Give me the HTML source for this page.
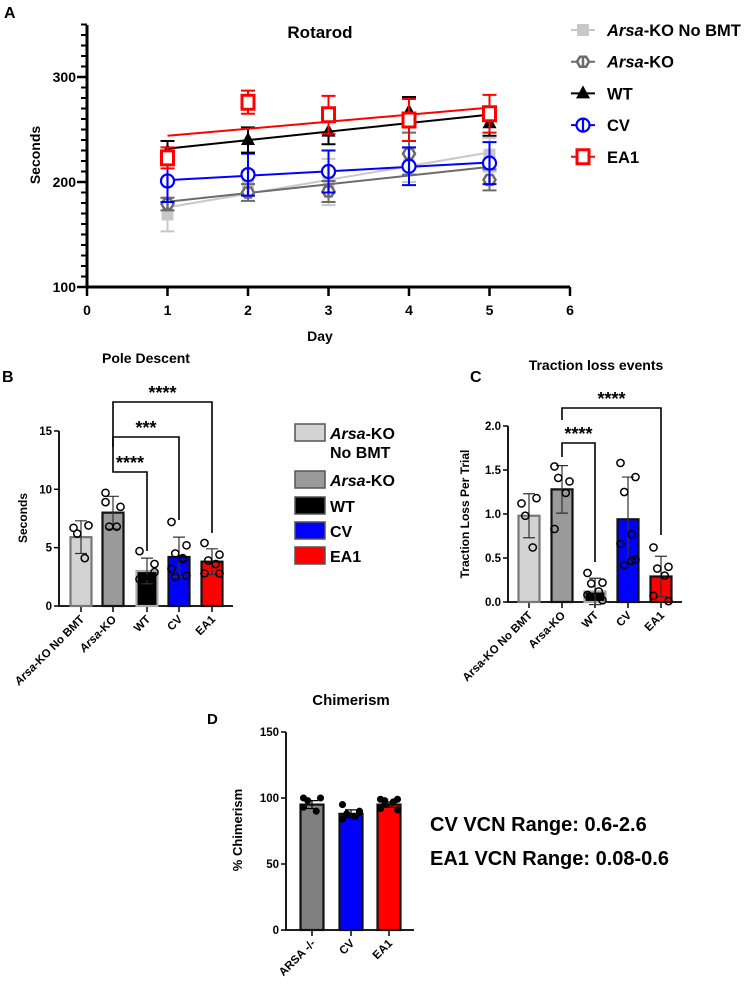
<!DOCTYPE html>
<html><head><meta charset="utf-8"><style>
html,body{margin:0;padding:0;background:#fff}
svg{display:block;font-family:"Liberation Sans",Arial,sans-serif}
text{font-weight:bold}
</style></head><body>
<svg id="fig" width="748" height="996" viewBox="0 0 748 996">
<g id="pa"></g>
<g id="pb"></g>
<g id="pc"></g>
<g id="pd"></g>
</svg>
<script>
// ---------- Panel A data ----------
const days = [1, 2, 3, 4, 5];
const rotNoBMT = [169, 199, 200, 216, 226];
const rotKO = [179, 190, 191, 227, 202];
const rotWT = [229, 240, 248, 267, 256];
const rotCV = [201, 207, 210, 215, 218];
const rotEA1 = [223, 276, 264, 259, 265];
const errNoBMT = [16, 12, 22, 16, 16];
const errKO = [6, 8, 10, 20, 10];
const errWT = [10, 12, 12, 14, 12];
const errCV = [20, 20, 20, 18, 20];
const errEA1 = [10, 11, 18, 20, 18];
const rotYTicks = [100, 200, 300];
const rotXTicks = [0, 1, 2, 3, 4, 5, 6];
// ---------- Panel B data ----------
const groups = ["Arsa-KO No BMT", "Arsa-KO", "WT", "CV", "EA1"];
const poleMean = [5.9, 8.0, 3.0, 4.2, 3.8];
const poleSD = [1.4, 1.4, 1.1, 1.7, 1.1];
const polePts = [[6.7, 6.9, 6.2, 4.1], [9.7, 8.5, 6.8, 6.8, 8.9], [4.7, 2.9, 2.5, 2.4, 2.3, 3.6], [7.2, 5.2, 4.5, 4.1, 3.2, 2.6, 2.5, 4.0], [5.4, 4.4, 3.9, 3.6, 2.8, 2.8]];
const poleTicks = [0, 5, 10, 15];
// ---------- Panel C data ----------
const tracMean = [0.98, 1.28, 0.12, 0.94, 0.29];
const tracSD = [0.25, 0.27, 0.15, 0.48, 0.23];
const tracPts = [[1.12, 1.18, 0.98, 0.62], [1.54, 1.37, 1.41, 1.24, 0.83], [0.33, 0.22, 0.21, 0.12, 0.08, 0.02], [1.58, 1.42, 1.25, 0.77, 0.66, 0.48, 0.42, 0.47], [0.62, 0.4, 0.38, 0.3, 0.07, 0.01]];
const tracTicks = [0, 0.5, 1.0, 1.5, 2.0];
// ---------- Panel D data ----------
const chimGroups = ["ARSA -/-", "CV", "EA1"];
const chimMean = [95, 88, 95];
const chimSD = [3, 3, 2];
const chimPts = [[100, 100, 98, 90, 93], [95, 90, 88, 86, 84, 89], [99, 99, 98, 97, 92, 91, 95]];
const chimTicks = [0, 50, 100, 150];

const NS = "http://www.w3.org/2000/svg";
function mk(parent, tag, attrs, txt) {
  const e = document.createElementNS(NS, tag);
  for (const k in attrs) e.setAttribute(k, attrs[k]);
  if (txt !== undefined) e.textContent = txt;
  parent.appendChild(e);
  return e;
}
function regress(xs, ys) {
  const n = xs.length; let mx = 0, my = 0;
  for (let i = 0; i < n; i++) { mx += xs[i]; my += ys[i]; }
  mx /= n; my /= n; let sxy = 0, sxx = 0;
  for (let i = 0; i < n; i++) { sxy += (xs[i]-mx)*(ys[i]-my); sxx += (xs[i]-mx)*(xs[i]-mx); }
  const b = sxy/sxx; return [my - b*mx, b];
}

// ================= PANEL A =================
(function(){
  const g = document.getElementById("pa");
  const X = d => 87 + d*80.5;
  const Y = v => 182 - (v-200)*1.05;
  let t;
  t = mk(g, "text", {x: 4, y: 18, "font-size": 16});
  t.textContent = "A";
  
  
  t = mk(g, "text", {x: 320, y: 38, "font-size": 17, "text-anchor": "middle"}, "Rotarod");
  
  
  t = mk(g, "text", {x: 0, y: 0, "font-size": 14, "text-anchor": "middle", transform: "translate(40,155) rotate(-90)"}, "Seconds");
  
  
  t = mk(g, "text", {x: 320, y: 341, "font-size": 14, "text-anchor": "middle"}, "Day");
  
  
  // axes
  let ax = mk(g, "path", {d: `M${X(0)} 25 V${Y(100)} H${X(6)}`, stroke: "#000", "stroke-width": 3, fill: "none"});
  
  
  for (let v = 110; v <= 350; v += 10) {
    if (v % 100 === 0) continue;
    mk(g, "line", {x1: X(0)-6, x2: X(0), y1: Y(v), y2: Y(v), stroke: "#000", "stroke-width": 2});
  }
  rotYTicks.forEach(v => {
    mk(g, "line", {x1: X(0)-10, x2: X(0), y1: Y(v), y2: Y(v), stroke: "#000", "stroke-width": 2.5});
    t = mk(g, "text", {x: X(0)-11, y: Y(v)+5, "font-size": 14, "text-anchor": "end"}, v);
    
    
  });
  rotXTicks.forEach(d => {
    mk(g, "line", {x1: X(d), x2: X(d), y1: Y(100), y2: Y(100)+9, stroke: "#000", "stroke-width": 2.5});
    t = mk(g, "text", {x: X(d), y: Y(100)+28, "font-size": 14, "text-anchor": "middle"}, d);
    
    
  });
  const series = [
    {name: "no-bmt", vals: rotNoBMT, err: errNoBMT, color: "#c8c8c8", mk: "sq"},
    {name: "arsa-ko", vals: rotKO, err: errKO, color: "#6b6b6b", mk: "hex"},
    {name: "cv", vals: rotCV, err: errCV, color: "#0000ff", mk: "circ"},
    {name: "wt", vals: rotWT, err: errWT, color: "#000", mk: "tri"},
    {name: "ea1", vals: rotEA1, err: errEA1, color: "#ff0000", mk: "osq"}
  ];
  function marker(p, type, x, y, c) {
    if (type === "sq") return mk(p, "rect", {x: x-6, y: y-6, width: 12, height: 12, fill: c});
    if (type === "hex") return mk(p, "path", {d: `M${x-6} ${y} L${x-3} ${y-5} H${x+3} L${x+6} ${y} L${x+3} ${y+5} H${x-3}Z M${x} ${y-5} V${y+5}`, fill: "#fff", stroke: c, "stroke-width": 2.5});
    if (type === "circ") return mk(p, "path", {d: `M${x} ${y-6.5} A6.5 6.5 0 1 0 ${x} ${y+6.5} A6.5 6.5 0 1 0 ${x} ${y-6.5} M${x} ${y-6.5} A6.5 6.5 0 0 0 ${x} ${y+6.5}Z`, fill: "#fff", stroke: c, "stroke-width": 2.2});
    if (type === "tri") return mk(p, "path", {d: `M${x} ${y-8} L${x+7} ${y+5} H${x-7}Z`, fill: c});
    if (type === "osq") return mk(p, "path", {d: `M${x-6} ${y-7} h12 v14 h-12Z`, fill: "#fff", stroke: c, "stroke-width": 3});
  }
  series.forEach(s => {
    const sg = mk(g, "g", {});
    
    
    const [a, b] = regress(days, s.vals);
    const ln = mk(sg, "line", {x1: X(1), y1: Y(a+b*1), x2: X(5), y2: Y(a+b*5), stroke: s.color, "stroke-width": 2});
    
    
    days.forEach((d, i) => {
      const x = X(d), y = Y(s.vals[i]), e = s.err[i] * 1.05;
      const eb = mk(sg, "path", {d: `M${x} ${y-e} V${y+e} M${x-7} ${y-e} H${x+7} M${x-7} ${y+e} H${x+7}`, stroke: s.color, "stroke-width": 2, fill: "none"});
      
      
      const m = marker(sg, s.mk, x, y, s.color);
      
      
    });
  });
  // legend
  const leg = [["Arsa", "-KO No BMT", "#c8c8c8", "sq"], ["Arsa", "-KO", "#6b6b6b", "hex"], ["", "WT", "#000", "tri"], ["", "CV", "#0000ff", "circ"], ["", "EA1", "#ff0000", "osq"]];
  leg.forEach((l, i) => {
    const y = 30 + i*31.7;
    const lg = mk(g, "g", {});
    
    
    mk(lg, "line", {x1: 571, x2: 595, y1: y, y2: y, stroke: l[2], "stroke-width": 2});
    marker(lg, l[3], 583, y, l[2]);
    const tx = mk(lg, "text", {x: 607, y: y+6, "font-size": 16.5});
    if (l[0]) mk(tx, "tspan", {"font-style": "italic"}, l[0]);
    mk(tx, "tspan", {}, l[1]);
  });
})();

// ================= bar chart helper =================
function barChart(g, o) {
  const Y = v => o.y0 - v*o.k;
  let t;
  const ax = mk(g, "path", {d: `M${o.ax} ${Y(o.ticks[o.ticks.length-1])} V${o.y0} H${o.axEnd}`, stroke: "#000", "stroke-width": 1.8, fill: "none"});
  
  
  o.ticks.forEach(v => {
    mk(g, "line", {x1: o.ax-5, x2: o.ax, y1: Y(v), y2: Y(v), stroke: "#000", "stroke-width": 1.5});
    t = mk(g, "text", {x: o.ax-7, y: Y(v)+4, "font-size": 11.5, "text-anchor": "end"}, o.fmt(v));
    
    
  });
  o.means.forEach((m, i) => {
    const cx = o.cx[i];
    mk(g, "line", {x1: cx, x2: cx, y1: o.y0, y2: o.y0+6, stroke: "#000", "stroke-width": 1.5});
    const b = mk(g, "rect", {x: cx-o.bw/2, y: Y(m), width: o.bw, height: o.y0-Y(m), fill: o.fills[i], stroke: o.strokes[i], "stroke-width": 2.2});
    
    
    const s = o.sd[i];
    const eb = mk(g, "path", {d: `M${cx} ${Y(m-s)} V${Y(m+s)} M${cx-6} ${Y(m+s)} H${cx+6} M${cx-6} ${Y(m-s)} H${cx+6}`, stroke: o.errColor, "stroke-width": 1.2, fill: "none"});
    
    
    o.pts[i].forEach((p, j) => {
      const off = (j % 2 === 0 ? -1 : 1) * (o.bw/2 - 3) * ((j % 4 < 2) ? 1 : 0.5);
      const c = mk(g, "circle", {cx: cx + off, cy: Y(p), r: o.r, fill: o.ptFill, stroke: "#000", "stroke-width": 1.5});
      
      
    });
    const lt = mk(g, "text", {x: 0, y: 0, "font-size": 11.5, "text-anchor": "end", transform: `translate(${cx+4},${o.y0+14}) rotate(-45)`});
    if (o.italicArsa && o.labels[i].startsWith("Arsa")) { mk(lt, "tspan", {"font-style": "italic"}, "Arsa"); mk(lt, "tspan", {}, o.labels[i].slice(4)); }
    else lt.textContent = o.labels[i];
    
    
  });
}
function bracket(g, x1, x2, yTop, y1b, y2b, stars) {
  const p = mk(g, "path", {d: `M${x1} ${y1b} V${yTop} H${x2} V${y2b}`, stroke: "#000", "stroke-width": 1.6, fill: "none"});
  
  
  const t = mk(g, "text", {x: (x1+x2)/2, y: yTop-3, "font-size": 18, "text-anchor": "middle"}, stars);
  
  
}
const fills = ["#d3d3d3", "#9a9a9a", "#000", "#0000ff", "#ff0000"];
const strokes = ["#777", "#111", "#aaa", "#111", "#111"];

// ================= PANEL B =================
(function(){
  const g = document.getElementById("pb");
  let t = mk(g, "text", {x: 2, y: 382, "font-size": 16}, "B");
  
  
  t = mk(g, "text", {x: 146, y: 363, "font-size": 14, "text-anchor": "middle"}, "Pole Descent");
  
  
  t = mk(g, "text", {x: 0, y: 0, "font-size": 12, "text-anchor": "middle", transform: "translate(27,518) rotate(-90)"}, "Seconds");
  
  
  barChart(g, {ax: 59, axEnd: 233, y0: 606, k: 11.67, ticks: poleTicks, fmt: v => v, cx: [81, 113, 147, 179, 212], bw: 21,
    means: poleMean, sd: poleSD, pts: polePts, fills: fills, strokes: strokes, labels: groups, errColor: "#333", ptFill: "none", r: 3.6, italicArsa: true});
  bracket(g, 113, 147, 472, 447, 551, "****");
  bracket(g, 113, 179, 437, 447, 520, "***");
  bracket(g, 113, 212, 402, 447, 533, "****");
  const leg = [["Arsa", "-KO", "No BMT"], ["Arsa", "-KO"], ["", "WT"], ["", "CV"], ["", "EA1"]];
  const ly = [424, 471, 497, 522, 547];
  leg.forEach((l, i) => {
    const lg = mk(g, "g", {});
    
    
    mk(lg, "rect", {x: 295, y: ly[i], width: 30, height: 17, fill: fills[i], stroke: "#555", "stroke-width": 1.5});
    const tx = mk(lg, "text", {x: 330, y: ly[i]+15, "font-size": 16});
    if (l[0]) mk(tx, "tspan", {"font-style": "italic"}, l[0]);
    mk(tx, "tspan", {}, l[1]);
    if (l[2]) mk(lg, "text", {x: 330, y: ly[i]+34, "font-size": 16}, l[2]);
  });
})();

// ================= PANEL C =================
(function(){
  const g = document.getElementById("pc");
  let t = mk(g, "text", {x: 470, y: 382, "font-size": 16}, "C");
  
  
  t = mk(g, "text", {x: 596, y: 370, "font-size": 14, "text-anchor": "middle"}, "Traction loss events");
  
  
  t = mk(g, "text", {x: 0, y: 0, "font-size": 12, "text-anchor": "middle", transform: "translate(469,514) rotate(-90)"}, "Traction Loss Per Trial");
  
  
  barChart(g, {ax: 508, axEnd: 682, y0: 602, k: 88, ticks: tracTicks, fmt: v => v.toFixed(1), cx: [529, 562, 595, 628, 661], bw: 21,
    means: tracMean, sd: tracSD, pts: tracPts, fills: fills, strokes: strokes, labels: groups, errColor: "#333", ptFill: "none", r: 3.6, italicArsa: false});
  bracket(g, 562, 595, 443, 457, 562, "****");
  bracket(g, 562, 661, 408, 420, 535, "****");
})();

// ================= PANEL D =================
(function(){
  const g = document.getElementById("pd");
  let t = mk(g, "text", {x: 207, y: 724, "font-size": 15}, "D");
  
  
  t = mk(g, "text", {x: 351, y: 705, "font-size": 15, "text-anchor": "middle"}, "Chimerism");
  
  
  t = mk(g, "text", {x: 0, y: 0, "font-size": 13, "text-anchor": "middle", transform: "translate(242,830) rotate(-90)"}, "% Chimerism");
  
  
  barChart(g, {ax: 286, axEnd: 414, y0: 930, k: 1.32, ticks: chimTicks, fmt: v => v, cx: [312, 351, 389], bw: 23,
    means: chimMean, sd: chimSD, pts: chimPts, fills: ["#808080", "#0000ff", "#ff0000"], strokes: ["#111", "#111", "#111"], labels: chimGroups, errColor: "#000", ptFill: "#000", r: 2.8, italicArsa: false});
  t = mk(g, "text", {x: 430, y: 831, "font-size": 20}, "CV VCN Range: 0.6-2.6");
  
  
  t = mk(g, "text", {x: 430, y: 865, "font-size": 20}, "EA1 VCN Range: 0.08-0.6");
  
  
})();
</script>
</body></html>
